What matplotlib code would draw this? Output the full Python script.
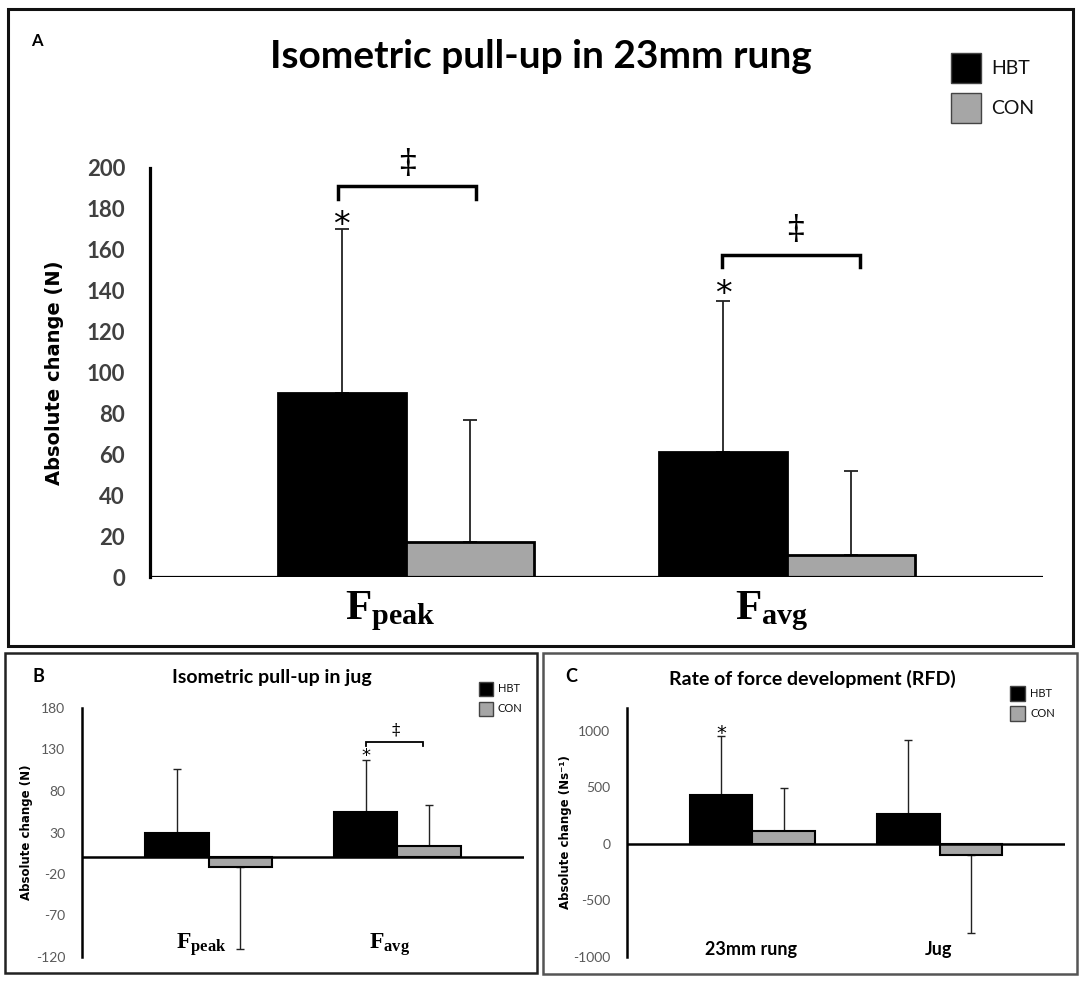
import matplotlib
matplotlib.use("Agg")
import matplotlib.pyplot as plt
from matplotlib.patches import Rectangle
import numpy as np

plt.rcParams.update({
    "font.family": ["Lato", "DejaVu Sans"],
    "mathtext.fontset": "custom",
    "mathtext.rm": "Liberation Serif:bold",
    "mathtext.bf": "Liberation Serif:bold",
    "mathtext.it": "Liberation Serif:bold",
    "axes.unicode_minus": False,
})

W, H = 1084, 983

# --- data ---
groups = ["HBT", "CON"]

a_labels = [r"$\mathbf{F}_{\mathbf{peak}}$", r"$\mathbf{F}_{\mathbf{avg}}$"]
a_hbt = [90, 61]
a_con = [17, 11]
a_hbt_sd = [80, 74]
a_con_sd = [60, 41]
a_ticks = list(range(0, 201, 20))

b_labels = [r"$\mathbf{F}_{\mathbf{peak}}$", r"$\mathbf{F}_{\mathbf{avg}}$"]
b_hbt = [30, 55]
b_con = [-12, 14]
b_hbt_sd = [77, 62]
b_con_sd = [98, 49]
b_ticks = [180, 130, 80, 30, -20, -70, -120]

c_labels = ["23mm rung", "Jug"]
c_hbt = [432, 263]
c_con = [117, -100]
c_hbt_sd = [520, 652]
c_con_sd = [377, 687]
c_ticks = [1000, 500, 0, -500, -1000]

GREY = "#a6a6a6"
BW = 0.335


def px_axes(fig, x0, y0, x1, y1):
    return fig.add_axes([x0 / W, 1 - y1 / H, (x1 - x0) / W, (y1 - y0) / H])


def box(fig, x0, y0, x1, y1, color, lw):
    fig.patches.append(Rectangle((x0 / W, 1 - y1 / H), (x1 - x0) / W, (y1 - y0) / H,
                                 transform=fig.transFigure, fill=False,
                                 edgecolor=color, linewidth=lw))


def bars(ax, hbt, con, hbt_sd, con_sd, lw, capsize, elw):
    x = np.arange(len(hbt))
    ax.bar(x - BW / 2, hbt, BW, color="black", edgecolor="black", linewidth=lw, zorder=2)
    ax.bar(x + BW / 2, con, BW, color=GREY, edgecolor="black", linewidth=lw, zorder=2)
    for xs, vals, sds in [(x - BW / 2, hbt, hbt_sd), (x + BW / 2, con, con_sd)]:
        for xi, v, s in zip(xs, vals, sds):
            err = [[0], [s]] if v >= 0 else [[s], [0]]
            ax.errorbar(xi, v, yerr=err, fmt="none", ecolor="#222222",
                        elinewidth=elw, capsize=capsize, capthick=elw, zorder=1)
    ax.axhline(0, color="black", lw=lw + 0.3, zorder=3)
    ax.set_xlim(-0.67, 1.67)
    ax.set_xticks([])
    for s in ["top", "right", "bottom"]:
        ax.spines[s].set_visible(False)
    ax.spines["left"].set_linewidth(lw + 0.3)
    ax.patch.set_alpha(0)


def bracket(ax, x0, x1, y, drop, lw):
    ax.plot([x0, x0, x1, x1], [y - drop, y, y, y - drop], color="black", lw=lw,
            clip_on=False, solid_joinstyle="miter")


def legend(fig, x, y, size, gap, fs):
    for i, (name, col) in enumerate(zip(groups, ["black", GREY])):
        yy = y + i * (size + gap)
        fig.patches.append(Rectangle((x / W, 1 - (yy + size) / H), size / W, size / H,
                                     transform=fig.transFigure, facecolor=col,
                                     edgecolor="#444444", linewidth=1))
        fig.text((x + size + size * 0.35) / W, 1 - (yy + size / 2) / H, name,
                 fontsize=fs, va="center", ha="left", color="#111111")


fig = plt.figure(figsize=(W / 100, H / 100), dpi=100)

# ---------------- Panel A ----------------
box(fig, 8, 9, 1073, 646, "#111111", 2.2)
fig.text(37 / W, 1 - 41 / H, "A", fontsize=12, weight="bold", ha="center", va="center")
fig.text(541 / W, 1 - 57 / H, "Isometric pull-up in 23mm rung", fontsize=28,
         weight="bold", ha="center", va="center")
legend(fig, 951, 53, 30, 10, 14)

axA = px_axes(fig, 150, 168, 1043, 577)
bars(axA, a_hbt, a_con, a_hbt_sd, a_con_sd, 2.0, 5, 1.3)
axA.set_ylim(0, 200)
axA.set_yticks(a_ticks)
axA.tick_params(axis="y", length=0, pad=18, labelsize=16, labelcolor="#404040")
for t in axA.get_yticklabels():
    t.set_fontweight("bold")
axA.set_ylabel("Absolute change (N)", family="DejaVu Sans", weight="bold", fontsize=14)
axA.yaxis.set_label_coords(-0.096, 0.5)
for i, lab in enumerate(a_labels):
    axA.text(i - 0.04, -0.085, lab, transform=axA.get_xaxis_transform(),
             fontsize=31, ha="center", va="center")
bracket(axA, -0.178, 0.184, 191, 6, 2.5)
bracket(axA, 1 - 0.17, 1 + 0.19, 157.7, 6, 2.5)
axA.text(0.005, 202, "‡", family="DejaVu Serif", fontsize=24, ha="center", va="center", clip_on=False)
axA.text(1.02, 169.7, "‡", family="DejaVu Serif", fontsize=24, ha="center", va="center")
axA.text(-BW / 2, 172, "*", family="DejaVu Sans", fontsize=24, ha="center", va="center")
axA.text(1 - BW / 2, 138, "*", family="DejaVu Sans", fontsize=24, ha="center", va="center")

# ---------------- Panel B ----------------
box(fig, 5, 653, 537, 973, "#222222", 1.8)
fig.text(38 / W, 1 - 676 / H, "B", fontsize=13, weight="bold", ha="center", va="center")
fig.text(272 / W, 1 - 678 / H, "Isometric pull-up in jug", fontsize=14,
         weight="bold", ha="center", va="center")
legend(fig, 479, 682, 14, 6, 8)

axB = px_axes(fig, 82, 708, 524, 957)
bars(axB, b_hbt, b_con, b_hbt_sd, b_con_sd, 1.5, 3, 1.0)
axB.set_ylim(-120, 180)
axB.set_yticks(b_ticks)
axB.tick_params(axis="y", length=0, pad=12, labelsize=10, labelcolor="#595959")
axB.set_ylabel("Absolute change (N)", family="DejaVu Sans", weight="bold", fontsize=8.5)
axB.yaxis.set_label_coords(-0.111, 0.5)
for i, lab in enumerate(b_labels):
    axB.text(i - 0.04, -105, lab, fontsize=17, ha="center", va="center")
bracket(axB, 1 - BW / 2, 1 + 0.137, 138.7, 5, 1.3)
axB.text(1 - 0.01, 153.6, "‡", family="DejaVu Serif", fontsize=12, ha="center", va="center")
axB.text(1 - BW / 2, 122, "*", family="DejaVu Sans", fontsize=13, ha="center", va="center")

# ---------------- Panel C ----------------
box(fig, 543, 653, 1077, 974, "#555555", 1.8)
fig.text(571 / W, 1 - 676 / H, "C", fontsize=13, weight="bold", ha="center", va="center")
fig.text(812 / W, 1 - 679 / H, "Rate of force development (RFD)", fontsize=14,
         weight="bold", ha="center", va="center")
legend(fig, 1010, 686, 15, 5, 8)

axC = px_axes(fig, 627, 708, 1065, 957)
bars(axC, c_hbt, c_con, c_hbt_sd, c_con_sd, 1.5, 3, 1.0)
axC.set_ylim(-1000, 1200)
axC.set_yticks(c_ticks)
axC.tick_params(axis="y", length=0, pad=12, labelsize=10, labelcolor="#595959")
axC.set_ylabel("Absolute change (Ns⁻¹)", family="DejaVu Sans", weight="bold", fontsize=8.5)
axC.yaxis.set_label_coords(-0.1256, 0.5)
for i, lab in enumerate(c_labels):
    axC.text(i - 0.005, -930, lab, fontsize=13, weight="bold", ha="center", va="center")
axC.text(-BW / 2, 975, "*", family="DejaVu Sans", fontsize=14, ha="center", va="center")

fig.savefig("out.png", dpi=100)
